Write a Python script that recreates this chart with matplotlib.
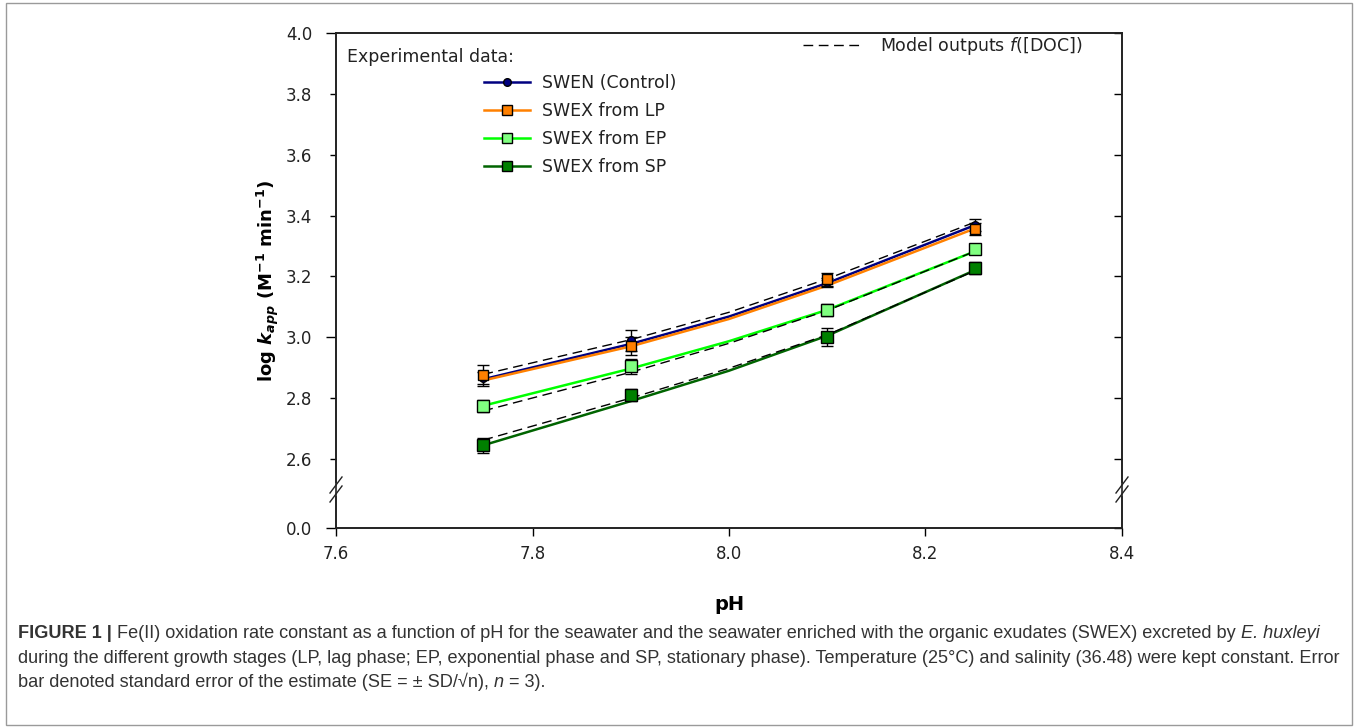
import numpy as np
import matplotlib
matplotlib.use("Agg")
import matplotlib.pyplot as plt
from matplotlib.lines import Line2D
from matplotlib.patches import Rectangle

# ---------------- data ----------------
ph = [7.75, 7.90, 8.10, 8.25]
swen = [2.865, 2.990, 3.180, 3.370]
swen_err = [0.020, 0.035, 0.015, 0.020]
lp = [2.875, 2.970, 3.190, 3.355]
lp_err = [0.035, 0.030, 0.020, 0.020]
ep = [2.775, 2.905, 3.090, 3.290]
ep_err = [0.020, 0.025, 0.020, 0.015]
sp = [2.645, 2.810, 3.000, 3.228]
sp_err = [0.025, 0.020, 0.030, 0.020]

ph_curve = [7.75, 7.90, 8.00, 8.10, 8.25]
swen_fit = [2.862, 2.978, 3.068, 3.178, 3.368]
lp_fit = [2.858, 2.970, 3.060, 3.170, 3.357]
ep_fit = [2.775, 2.897, 2.987, 3.090, 3.282]
sp_fit = [2.645, 2.790, 2.890, 3.005, 3.220]
model_ctrl = [2.878, 2.992, 3.082, 3.192, 3.378]
model_ep = [2.758, 2.885, 2.980, 3.088, 3.282]
model_sp = [2.662, 2.800, 2.898, 3.008, 3.218]

x_ticks = [7.6, 7.8, 8.0, 8.2, 8.4]
y_major = [0.0, 3.0, 4.0]
y_minor = [2.6, 2.8, 3.2, 3.4, 3.6, 3.8]

caption_lines = [
    [("FIGURE 1 |", "bold"),
     (" Fe(II) oxidation rate constant as a function of pH for the seawater and the seawater enriched with the organic exudates (SWEX) excreted by ", "normal"),
     ("E. huxleyi", "italic")],
    [("during the different growth stages (LP, lag phase; EP, exponential phase and SP, stationary phase). Temperature (25\u00b0C) and salinity (36.48) were kept constant. Error", "normal")],
    [("bar denoted standard error of the estimate (SE = \u00b1 SD/\u221an), ", "normal"),
     ("n", "italic"), (" = 3).", "normal")],
]

# ---------------- style ----------------
plt.rcParams["font.family"] = ["DejaVu Sans"]
plt.rcParams["mathtext.fontset"] = "custom"
plt.rcParams["mathtext.rm"] = "DejaVu Sans"
plt.rcParams["mathtext.it"] = "DejaVu Sans:italic"
plt.rcParams["mathtext.bf"] = "DejaVu Sans:bold"
plt.rcParams["mathtext.bfit"] = "DejaVu Sans:bold:italic"

W, H = 1358, 727
fig = plt.figure(figsize=(W / 100, H / 100), dpi=100)
fig.patch.set_facecolor("white")

L, R, T, B = 336, 1122, 33, 528
ax = fig.add_axes([L / W, 1 - B / H, (R - L) / W, (B - T) / H])

BRK = 2.5
SQZ = 0.0508


def fwd(y):
    y = np.asarray(y, float)
    return np.where(y >= BRK, y, BRK - (BRK - y) * SQZ)


def inv(t):
    t = np.asarray(t, float)
    return np.where(t >= BRK, t, BRK - (BRK - t) / SQZ)


ax.set_yscale("function", functions=(fwd, inv))
ax.set_ylim(0.0, 4.0)
ax.set_xlim(7.6, 8.4)

c_swen = "#000080"
c_lp = "#FF8000"
c_ep_line = "#00FF00"
c_ep_face = "#80FF80"
c_sp_line = "#006400"
c_sp_face = "#008000"

lw = 1.8
# fitted solid lines
ax.plot(ph_curve, swen_fit, color=c_swen, lw=lw, zorder=3)
ax.plot(ph_curve, lp_fit, color=c_lp, lw=lw, zorder=3)
ax.plot(ph_curve, ep_fit, color=c_ep_line, lw=lw, zorder=3)
ax.plot(ph_curve, sp_fit, color=c_sp_line, lw=lw, zorder=3)
# model dashed lines
for m in (model_ctrl, model_ep, model_sp):
    ax.plot(ph_curve, m, color="black", lw=1.0, dashes=(7, 4), zorder=4)

# error bars + markers
series = [
    (swen, swen_err, "o", c_swen, 5.5),
    (lp, lp_err, "s", c_lp, 7.5),
    (ep, ep_err, "s", c_ep_face, 8),
    (sp, sp_err, "s", c_sp_face, 8),
]
for vals, err, mk, fc, ms in series:
    ax.errorbar(ph, vals, yerr=err, fmt="none", ecolor="black",
                elinewidth=1.0, capsize=4, capthick=1.0, zorder=5)
    ax.plot(ph, vals, linestyle="none", marker=mk, markersize=ms,
            markerfacecolor=fc, markeredgecolor="black", markeredgewidth=1.0, zorder=6)

# ticks
tick_fs = 12
ax.set_xticks(x_ticks, labels=[f"{v:.1f}" for v in x_ticks])
ax.set_yticks(y_major, labels=[f"{v:.1f}" for v in y_major])
ax.set_yticks(y_minor, labels=[f"{v:.1f}" for v in y_minor], minor=True)
ax.xaxis.set_minor_locator(matplotlib.ticker.NullLocator())
ax.tick_params(axis="x", which="major", direction="out", length=6, width=1,
               labelsize=tick_fs, pad=6, top=False)
ax.tick_params(axis="y", which="major", direction="out", length=7, width=1,
               labelsize=tick_fs, pad=10, right=False)
ax.tick_params(axis="y", which="minor", direction="out", length=4, width=1,
               labelsize=tick_fs, pad=13, right=False, labelleft=True)
for lab in ax.get_xticklabels() + ax.get_yticklabels() + ax.get_yticklabels(minor=True):
    lab.set_color("#222222")

# right side inward ticks
ax2 = ax.twinx()
ax2.set_yscale("function", functions=(fwd, inv))
ax2.set_ylim(ax.get_ylim())
ax2.set_yticks(y_major + y_minor)
ax2.yaxis.set_minor_locator(matplotlib.ticker.NullLocator())
ax2.tick_params(axis="y", direction="in", length=6, width=1, labelright=False)
for a in (ax, ax2):
    for s in a.spines.values():
        s.set_linewidth(1.2)
        s.set_color("#222222")

# axis break marks
ta = ax.transAxes
yb1 = (B - 494) / (B - T)
yb2 = (B - 485) / (B - T)
dx = 6 / (R - L)
dy = 8 / (B - T)
for xs in (0.0, 1.0):
    ax.plot([xs, xs], [yb1, yb2], transform=ta, color="white", lw=3,
            clip_on=False, zorder=20)
    for yy in (yb1, yb2):
        ax.plot([xs - dx, xs + dx], [yy - dy, yy + dy], transform=ta,
                color="#222222", lw=1.0, clip_on=False, zorder=21)

# labels
ax.set_xlabel("pH", fontsize=14, fontweight="bold", va="center")
ax.xaxis.set_label_coords(0.5, (B - 605) / (B - T))
ax.set_ylabel(r"log $\mathbfit{k}_{\mathbfit{app}}$ (M$^{\mathbf{-1}}$ min$^{\mathbf{-1}}$)",
              fontsize=13, fontweight="bold", va="center")
ax.yaxis.set_label_coords((268 - L) / (R - L), 0.5)

# legends
ax.text((347 - L) / (R - L), (B - 57) / (B - T), "Experimental data:",
        transform=ta, fontsize=12.5, va="center", ha="left", color="#222222")
handles = [
    Line2D([], [], color=c_swen, lw=lw, marker="o", markersize=5.5,
           markerfacecolor=c_swen, markeredgecolor="black"),
    Line2D([], [], color=c_lp, lw=lw, marker="s", markersize=7,
           markerfacecolor=c_lp, markeredgecolor="black"),
    Line2D([], [], color=c_ep_line, lw=lw, marker="s", markersize=7,
           markerfacecolor=c_ep_face, markeredgecolor="black"),
    Line2D([], [], color=c_sp_line, lw=lw, marker="s", markersize=7,
           markerfacecolor=c_sp_face, markeredgecolor="black"),
]
labels = ["SWEN (Control)", "SWEX from LP", "SWEX from EP", "SWEX from SP"]
leg1 = ax.legend(handles, labels, loc="upper left",
                 bbox_to_anchor=((484 - L) / (R - L), (B - 74) / (B - T)),
                 frameon=False, fontsize=12.5, borderpad=0, borderaxespad=0,
                 handlelength=2.65, handletextpad=0.7, labelspacing=0.58,
                 numpoints=1)
for t in leg1.get_texts():
    t.set_color("#222222")
ax.add_artist(leg1)
leg2 = ax.legend([Line2D([], [], color="black", lw=1.0, dashes=(7, 4))],
                 [r"Model outputs $\mathit{f}$([DOC])"], loc="upper left",
                 bbox_to_anchor=((803 - L) / (R - L), (B - 35) / (B - T)),
                 frameon=False, fontsize=12.5, borderpad=0, borderaxespad=0,
                 handlelength=3.3, handletextpad=1.15)
for t in leg2.get_texts():
    t.set_color("#222222")

# figure border
fig.add_artist(Rectangle((6 / W, 2 / H), (1352 - 6) / W, (724 - 2) / H,
                         transform=fig.transFigure, fill=False,
                         edgecolor="#9a9a9a", lw=1.0))

# caption, size fitted so that the widest line spans the reference width
cap_font = "Liberation Sans"
renderer = fig.canvas.get_renderer()


def seg_width(text, style, size):
    kw = dict(fontsize=size, family=[cap_font, "DejaVu Sans"])
    if style == "bold":
        kw["fontweight"] = "bold"
    if style == "italic":
        kw["fontstyle"] = "italic"
    a = fig.text(0, 0, text + "|", **kw)
    b = fig.text(0, 0, "|", **kw)
    w = a.get_window_extent(renderer).width - b.get_window_extent(renderer).width
    a.remove()
    b.remove()
    return w, kw


base = 11.0
wmax = max(sum(seg_width(s, st, base)[0] for s, st in line) for line in caption_lines)
cap_size = base * (1336 - 18) / wmax
ys = [633, 658, 682]
for line, yc in zip(caption_lines, ys):
    x = 18
    for s, st in line:
        w, kw = seg_width(s, st, cap_size)
        fig.text(x / W, 1 - (yc + 5) / H, s, va="baseline", ha="left",
                 color="#333333", **kw)
        x += w

fig.savefig("out.png", dpi=100)
